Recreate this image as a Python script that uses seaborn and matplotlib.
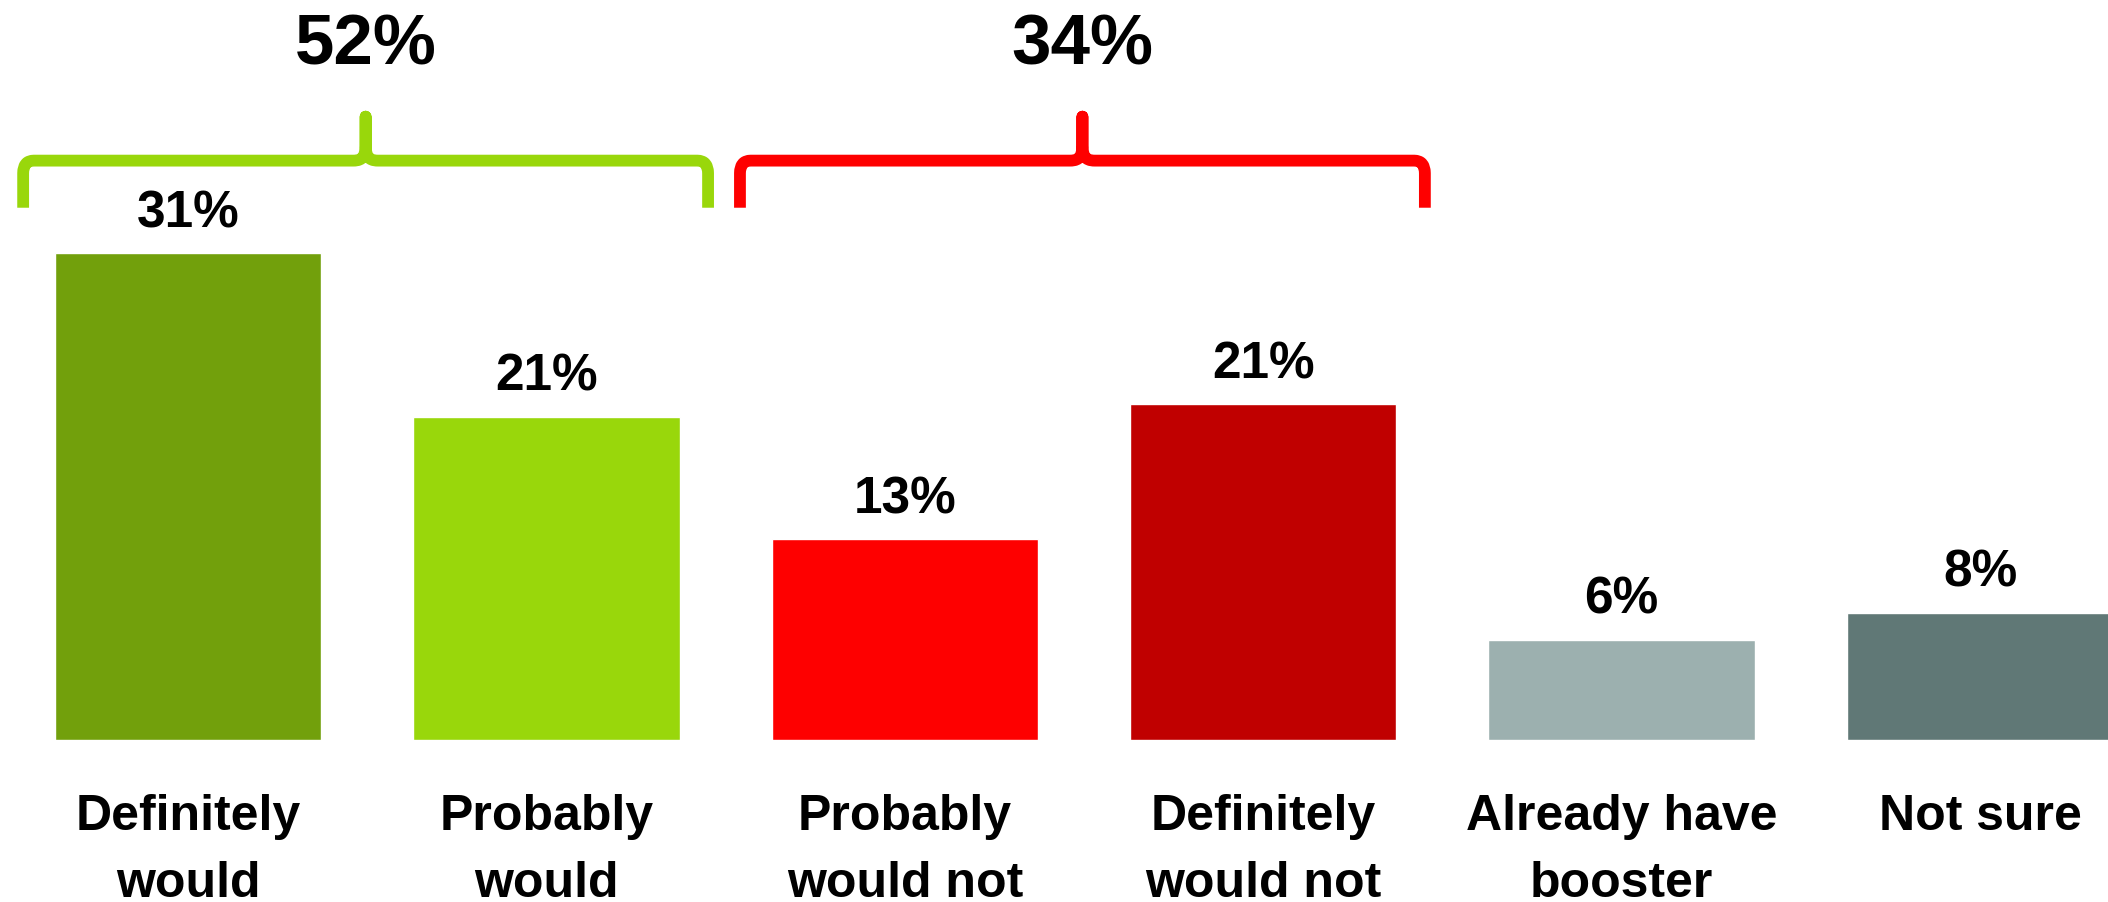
import numpy as np
import pandas as pd
import seaborn as sns
import matplotlib.pyplot as plt
from matplotlib.path import Path
from matplotlib.patches import PathPatch

# data
categories = ["Definitely would", "Probably would", "Probably would not",
              "Definitely would not", "Already have booster", "Not sure"]
label_lines = [["Definitely", "would"], ["Probably", "would"], ["Probably", "would not"],
               ["Definitely", "would not"], ["Already have", "booster"], ["Not sure"]]
values = [31.0, 20.6, 12.8, 21.4, 6.4, 8.1]
value_labels = ["31%", "21%", "13%", "21%", "6%", "8%"]
colors = ["#72A00C", "#99D70B", "#FE0000", "#C00000", "#9CB0AF", "#607876"]

# brace groups: (first bar, last bar, total label, colour)
groups = [(0, 1, "52%", "#99D70B"), (2, 3, "34%", "#FE0000")]

df = pd.DataFrame({"category": categories, "value": values})

sns.set_style("white")
plt.rcParams["font.family"] = ["Liberation Sans", "DejaVu Sans"]

fig = plt.figure(figsize=(21.08, 9.02), dpi=100)
ax = fig.add_axes([0, 162 / 902, 1, 740 / 902])

sns.barplot(data=df, x="category", y="value", hue="category", palette=colors,
            legend=False, width=0.743, saturation=1, ax=ax)
ax.set_xlim(-0.5246, 5.357)
ax.set_ylim(0, 47.13)
ax.set_axis_off()

# value labels above bars
for i, (v, lab) in enumerate(zip(values, value_labels)):
    ax.text(i, v + 1.65, lab, ha="center", va="baseline",
            fontsize=37, fontweight="bold", color="black")

# category labels below bars (second line runs off the bottom, as in the original)
for i, lines in enumerate(label_lines):
    for j, line in enumerate(lines):
        ax.text(i, -0.1216 - j * 0.0906, line, transform=ax.get_xaxis_transform(),
                ha="center", va="baseline", fontsize=36, fontweight="bold",
                color="black", clip_on=False)


def brace(ax, x0, x1, y_arm, y_line, y_tip, color):
    xc = (x0 + x1) / 2
    rx, ry = 0.03, 0.8      # corner rounding
    fx, fy = 0.035, 1.2     # flare at the tip
    verts = [
        (x0, y_arm), (x0, y_line - ry),
        (x0, y_line), (x0 + rx, y_line),
        (xc - fx, y_line),
        (xc - 0.004, y_line), (xc, y_line + fy * 0.3), (xc, y_line + fy),
        (xc, y_tip),
        (xc, y_line + fy),
        (xc, y_line + fy * 0.3), (xc + 0.004, y_line), (xc + fx, y_line),
        (x1 - rx, y_line),
        (x1, y_line), (x1, y_line - ry),
        (x1, y_arm),
    ]
    codes = [Path.MOVETO, Path.LINETO,
             Path.CURVE3, Path.CURVE3,
             Path.LINETO,
             Path.CURVE4, Path.CURVE4, Path.CURVE4,
             Path.LINETO,
             Path.LINETO,
             Path.CURVE4, Path.CURVE4, Path.CURVE4,
             Path.LINETO,
             Path.CURVE3, Path.CURVE3,
             Path.LINETO]
    patch = PathPatch(Path(verts, codes), facecolor="none", edgecolor=color,
                      linewidth=8.5, capstyle="butt", joinstyle="round",
                      clip_on=False)
    ax.add_patch(patch)
    return xc


for a, b, total, col in groups:
    xc = brace(ax, a - 0.46, b + 0.451, 33.9, 36.9, 39.7, col)
    ax.text(xc, 43.0, total, ha="center", va="baseline", fontsize=51,
            fontweight="bold", color="black")

fig.savefig("out.png", dpi=100, facecolor="white")
